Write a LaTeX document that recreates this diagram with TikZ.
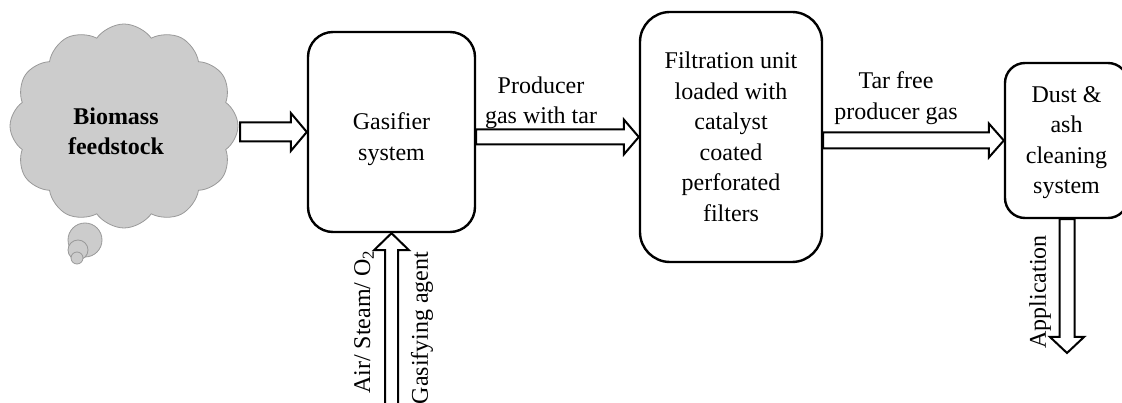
\documentclass[tikz,border=0pt]{standalone}
\usepackage{fontspec}
\setmainfont{Liberation Serif}
\usetikzlibrary{shapes.symbols,calc}

% block arrow with a hollow shaft: #1 tail, #2 tip, #3 half shaft width,
% #4 half head width, #5 signed head length
\newcommand\blockarrowH[5]{%
  \draw[blk] let \p1=(#1), \p2=(#2) in
    (\x1,\y2+#3) -- (\x2-#5,\y2+#3) -- (\x2-#5,\y2+#4) -- (\x2,\y2)
    -- (\x2-#5,\y2-#4) -- (\x2-#5,\y2-#3) -- (\x1,\y2-#3) -- cycle;}
\newcommand\blockarrowV[5]{%
  \draw[blk] let \p1=(#1), \p2=(#2) in
    (\x2-#3,\y1) -- (\x2-#3,\y2+#5) -- (\x2-#4,\y2+#5) -- (\x2,\y2)
    -- (\x2+#4,\y2+#5) -- (\x2+#3,\y2+#5) -- (\x2+#3,\y1) -- cycle;}

\tikzset{
  txt/.style={font=\rmfamily\fontsize{24}{30.5}\selectfont, align=center, inner sep=0pt},
  stage/.style={draw, line width=2.4pt, rounded corners=#1},
  blk/.style={draw, line width=2pt, fill=white, line join=miter},
  puff/.style={draw=gray!80, fill=gray!40, line width=0.8pt},
}

\begin{document}
\begin{tikzpicture}[x=1pt, y=-1pt]
  \useasboundingbox (0,0) rectangle (1122,403);
  \clip (0,0) rectangle (1122,403);

  % feedstock cloud with its trailing bubbles
  \draw[puff] (85,240) circle (17);
  \draw[puff] (78,250) circle (10);
  \draw[puff] (77,258) circle (6);
  \node[cloud, cloud puffs=12, cloud puff arc=110, puff,
        minimum width=228pt, minimum height=204pt] (feed) at (124,126) {};
  \node[txt, font=\rmfamily\fontsize{24}{30}\selectfont\bfseries] (feedlbl)
        at (116,131) {Biomass\\feedstock};
  \coordinate (feedout) at (240,135);

  % process stages
  \node[stage=25pt, minimum width=167pt, minimum height=200pt] (gas) at (391.5,132) {};
  \node[txt] (gaslbl) at ($(gas)+(0,7)$) {Gasifier\\system};
  \node[stage=30pt, minimum width=182pt, minimum height=250pt] (filt) at (731,137) {};
  \node[txt] (filtlbl) at (filt)
        {Filtration unit\\loaded with\\catalyst\\coated\\perforated\\filters};
  \node[stage=20pt, minimum width=123pt, minimum height=155pt] (dust) at (1066.5,140.5) {};
  \node[txt] (dustlbl) at ($(dust)+(0,2)$) {Dust \&\\ash\\cleaning\\system};

  \coordinate (agentin) at (392,410);
  \coordinate (appout) at (1067,353);

  % flows between stages
  \blockarrowH{feedout}{gas.west}{9.5pt}{19pt}{16pt}
  \blockarrowH{gas.east}{filt.west}{7.5pt}{17.5pt}{15pt}
  \blockarrowH{filt.east}{dust.west}{8pt}{17pt}{15pt}
  \blockarrowV{dust.south}{appout}{7.5pt}{17pt}{16pt}
  \blockarrowV{agentin}{gas.south}{6.5pt}{17.5pt}{-17pt}

  % flow labels
  \node[txt] (lprod) at (541,103) {Producer\\gas with tar};
  \node[txt] (lfree) at (896,98) {Tar free\\producer gas};
  \node[txt, rotate=90] (lair) at (364,322) {Air/ Steam/ O\textsubscript{2}};
  \node[txt, rotate=90] (lagent) at (422,328) {Gasifying agent};
  \node[txt, rotate=90] (lapp) at (1040,292) {Application};
\end{tikzpicture}
\end{document}
